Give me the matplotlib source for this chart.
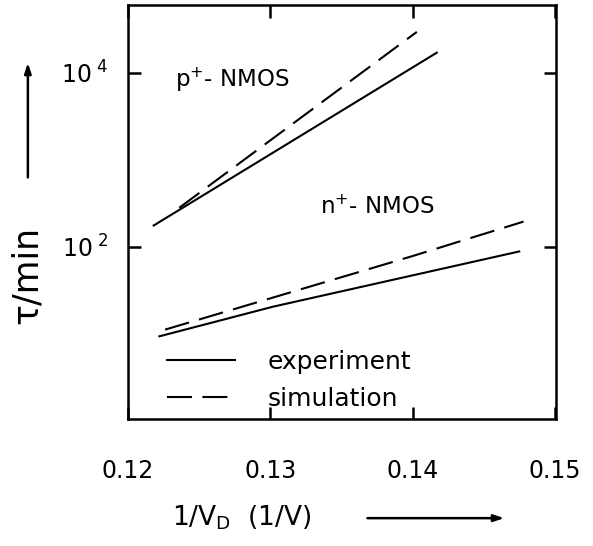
import numpy as np
import matplotlib
matplotlib.use("Agg")
import matplotlib.pyplot as plt

# values (1/V_D in 1/V, tau in min)
p_exp_x = [0.1218, 0.1417]
p_exp_y = [175, 1.7e4]
p_sim_x = [0.1236, 0.1403]
p_sim_y = [280, 2.95e4]

n_exp_x = [0.1222, 0.1302, 0.1475]
n_exp_y = [9.3, 20.4, 88]
n_sim_x = [0.1226, 0.1399, 0.1478]
n_sim_y = [11.1, 77, 194]

x_ticks = [0.12, 0.13, 0.14, 0.15]
x_tick_labels = ["0.12", "0.13", "0.14", "0.15"]
y_ticks = [1e2, 1e4]
y_tick_labels = [r"$\mathregular{10^{\ 2}}$", r"$\mathregular{10^{\ 4}}$"]

plt.rcParams["font.family"] = ["DejaVu Sans"]
fig = plt.figure(figsize=(5.93, 5.46), dpi=100)
ax = fig.add_axes([0.216, 0.233, 0.722, 0.758])

lw = 1.5
dash = (12, 5)
ax.plot(p_exp_x, p_exp_y, color="k", lw=lw)
ax.plot(p_sim_x, p_sim_y, color="k", lw=lw, dashes=dash)
ax.plot(n_exp_x, n_exp_y, color="k", lw=lw, label="experiment")
ax.plot(n_sim_x, n_sim_y, color="k", lw=lw, dashes=dash, label="simulation")

ax.set_yscale("log")
ax.set_xlim(0.12, 0.1501)
ax.set_ylim(10 ** 0.02, 10 ** 4.78)

ax.set_xticks(x_ticks, x_tick_labels)
ax.set_yticks(y_ticks, y_tick_labels)
ax.minorticks_off()
ax.tick_params(direction="in", length=9, width=1.8, labelsize=17,
               top=True, right=True)
ax.tick_params(axis="x", pad=29)
ax.tick_params(axis="y", pad=14)
for sp in ax.spines.values():
    sp.set_linewidth(1.8)

ax.text(0.11, 0.819, r"p$^{+}$- NMOS", transform=ax.transAxes,
        fontsize=16.5, va="center", ha="left")
ax.text(0.449, 0.512, r"n$^{+}$- NMOS", transform=ax.transAxes,
        fontsize=16.5, va="center", ha="left")

ax.legend(loc="lower left", bbox_to_anchor=(0.09, 0.02), frameon=False,
          fontsize=18, handlelength=2.75, handletextpad=1.3,
          labelspacing=0.5, borderpad=0, borderaxespad=0)

# axis labels with arrows, as in the reference
fig.text(0.045, 0.496, "τ/min", rotation=90, fontsize=25,
         ha="center", va="center")
fig.text(0.29, 0.052, r"1/V$_\mathregular{D}$  (1/V)", fontsize=19,
         ha="left", va="center")
fig.patches.append(matplotlib.patches.FancyArrowPatch(
    (0.047, 0.67), (0.047, 0.89), transform=fig.transFigure,
    arrowstyle="-|>,head_length=6,head_width=2", lw=1.8, color="k"))
fig.patches.append(matplotlib.patches.FancyArrowPatch(
    (0.615, 0.051), (0.855, 0.051), transform=fig.transFigure,
    arrowstyle="-|>,head_length=6,head_width=2", lw=1.8, color="k"))

fig.savefig("out.png", dpi=100)
